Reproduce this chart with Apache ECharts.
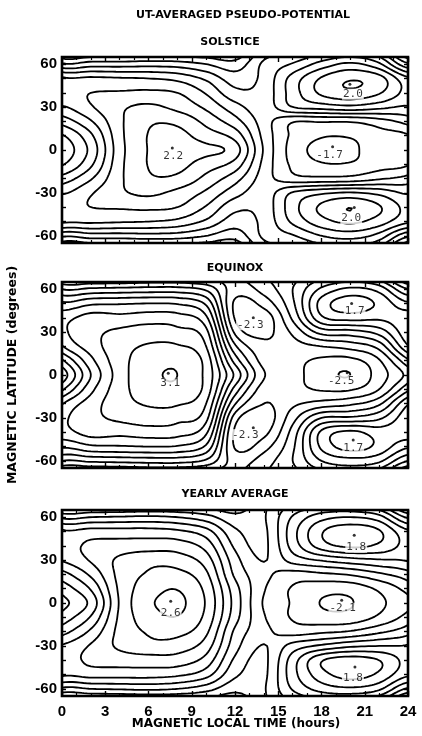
<!DOCTYPE html>
<html><head><meta charset="utf-8">
<script src="https://cdn.jsdelivr.net/npm/echarts@6.0.0/dist/echarts.min.js"></script>
<style>html,body{margin:0;padding:0;background:#fff}#c{width:422px;height:736px}</style>
</head><body><div id="c"></div>
<script>
// ---- data ----
const hours = [0,2,4,6,8,10,12,14,16,18,20,22];           // grid columns (24 h wraps to 0 h)
const lats  = [70,60,50,40,30,20,10,0,-10,-20,-30,-40,-50,-60,-70]; // grid rows
const contourLevels = [-2.5,-2,-1.5,-1,-0.5,0,0.5,1,1.5,2,2.5,3];
const xTickValues = [0,3,6,9,12,15,18,21,24];
const yTickLabels = [-60,-30,0,30,60];
const yTickMarks = [-60,-50,-40,-30,-20,-10,0,10,20,30,40,50,60];
const panelTitles = ['SOLSTICE','EQUINOX','YEARLY AVERAGE'];

const solsticeValues = [
 [-2.2,-2.1,-2.1,-2.0,-2.0,-2.0,-2.0,-0.8,-0.6,-0.2,0.0,-0.4],
 [-0.9,-0.75,-0.75,-0.7,-0.75,-1.0,-1.3,-0.4,0.05,0.7,1.1,0.6],
 [0.6,0.6,0.55,0.5,0.35,-0.1,-0.75,-0.35,0.7,1.55,1.95,1.7],
 [0.85,1.0,1.05,1.1,1.0,0.45,-0.35,-0.3,0.75,1.6,1.88,1.55],
 [0.45,0.95,1.4,1.6,1.35,0.9,0.2,-0.25,0.5,0.7,0.85,0.65],
 [-0.3,0.45,1.4,1.92,1.88,1.35,0.7,-0.25,-0.95,-0.95,-0.95,-0.7],
 [-1.05,-0.1,1.35,2.02,2.15,1.75,1.3,-0.15,-1.1,-1.45,-1.45,-1.2],
 [-1.3,-0.35,1.3,2.02,2.2,2.12,1.75,-0.05,-1.2,-1.65,-1.6,-1.25],
 [-1.05,-0.1,1.35,2.02,2.15,1.75,1.3,-0.15,-1.1,-1.45,-1.45,-1.2],
 [-0.3,0.45,1.4,1.92,1.88,1.35,0.7,-0.25,-0.8,-0.85,-0.8,-0.55],
 [0.45,0.95,1.4,1.6,1.35,0.9,0.2,-0.25,0.55,0.9,1.05,0.85],
 [0.85,1.0,1.05,1.1,1.0,0.45,-0.35,-0.3,0.8,1.6,1.99,1.55],
 [0.6,0.6,0.55,0.5,0.35,-0.1,-0.75,-0.35,0.6,1.3,1.6,1.25],
 [-0.9,-0.75,-0.75,-0.7,-0.75,-1.0,-1.3,-0.4,-0.05,0.5,0.7,0.3],
 [-2.2,-2.1,-2.1,-2.0,-2.0,-2.0,-2.0,-0.8,-0.65,-0.3,-0.2,-0.6]
];
const equinoxValues = [
 [-1.8,-1.8,-1.8,-1.7,-1.7,-1.8,-1.6,-1.0,-0.7,-0.2,0.0,-0.4],
 [-0.5,-0.4,-0.35,-0.3,-0.3,-0.6,-1.75,-1.3,-0.5,0.6,1.1,0.8],
 [0.6,0.9,0.95,1.0,0.95,0.4,-2.1,-1.8,-0.6,1.2,1.75,1.4],
 [1.3,1.7,1.65,1.75,1.7,1.1,-2.05,-2.3,-0.9,0.9,1.2,1.1],
 [1.35,1.85,2.1,2.25,2.15,1.65,-1.6,-2.15,-1.4,-0.3,-0.2,0.2],
 [0.95,1.75,2.3,2.55,2.55,2.0,-0.9,-1.85,-1.7,-1.5,-1.3,-0.8],
 [-0.1,1.35,2.3,2.75,2.88,2.3,-0.2,-1.7,-1.85,-2.1,-2.15,-1.55],
 [-0.8,1.0,2.25,2.85,3.0,2.35,0.4,-1.45,-1.8,-2.3,-2.5,-1.75],
 [-0.1,1.35,2.3,2.75,2.88,2.3,-0.2,-1.75,-1.85,-2.05,-2.05,-1.5],
 [0.95,1.75,2.3,2.55,2.55,2.0,-0.95,-2.0,-1.6,-1.3,-1.1,-0.6],
 [1.35,1.85,2.1,2.25,2.15,1.65,-1.75,-2.3,-1.2,0.0,0.1,0.4],
 [1.3,1.7,1.65,1.75,1.7,1.1,-2.1,-2.15,-0.8,1.1,1.6,1.25],
 [0.6,0.9,0.95,1.0,0.95,0.4,-2.05,-1.7,-0.6,1.1,1.7,1.35],
 [-0.5,-0.4,-0.35,-0.3,-0.3,-0.6,-1.7,-1.25,-0.5,0.5,0.8,0.6],
 [-1.8,-1.8,-1.8,-1.7,-1.7,-1.8,-1.6,-1.0,-0.7,-0.2,0.0,-0.4]
];
const yearlyValues = [
 [-2.0,-1.9,-1.9,-1.8,-1.8,-1.8,-1.9,-1.1,-0.5,-0.2,-0.2,-0.6],
 [-0.6,-0.5,-0.45,-0.4,-0.5,-0.8,-1.35,-1.05,0.05,0.8,1.0,0.7],
 [0.6,0.7,0.7,0.7,0.6,0.2,-0.9,-1.1,0.3,1.45,1.8,1.55],
 [0.85,1.1,1.2,1.25,1.25,0.8,-0.6,-1.1,0.2,1.25,1.6,1.4],
 [0.55,1.05,1.6,1.85,1.75,1.25,-0.3,-1.02,-0.3,0.05,0.3,0.45],
 [-0.2,0.6,1.65,2.05,2.15,1.6,-0.1,-0.85,-1.2,-1.1,-0.95,-0.6],
 [-0.8,0.05,1.6,2.25,2.48,1.85,0.2,-0.95,-1.55,-1.8,-1.8,-1.4],
 [-1.15,-0.35,1.55,2.4,2.6,1.95,0.3,-1.05,-1.55,-2.02,-2.03,-1.6],
 [-0.8,0.05,1.6,2.25,2.48,1.85,0.2,-0.95,-1.55,-1.8,-1.8,-1.4],
 [-0.2,0.6,1.65,2.05,2.15,1.6,-0.1,-0.85,-1.2,-1.1,-0.95,-0.6],
 [0.55,1.05,1.6,1.85,1.75,1.25,-0.3,-1.02,-0.3,0.1,0.4,0.5],
 [0.85,1.1,1.2,1.25,1.25,0.8,-0.6,-1.1,0.25,1.45,1.75,1.5],
 [0.6,0.7,0.7,0.7,0.6,0.2,-0.9,-1.1,0.3,1.3,1.7,1.4],
 [-0.6,-0.5,-0.45,-0.4,-0.5,-0.8,-1.35,-1.05,0.05,0.7,0.9,0.6],
 [-2.0,-1.9,-1.9,-1.8,-1.8,-1.8,-1.9,-1.1,-0.5,-0.2,-0.2,-0.6]
];
// extrema: [hour, latitude, label]
const solsticeExtrema = [[7.65,1.4,'2.2'],[19.97,46,'2.0'],[18.77,2.3,'-1.7'],[20.27,-40.2,'2.0']];
const equinoxExtrema  = [[7.37,1.2,'3.1'],[13.27,40,'-2.3'],[13.27,-36.8,'-2.3'],[19.78,1.6,'-2.5'],[20.09,50,'1.7'],[20.2,-45.4,'1.7']];
const yearlyExtrema   = [[7.54,1.2,'2.6'],[20.27,47.3,'1.8'],[19.4,1.9,'-2.1'],[20.32,-44.7,'1.8']];

// ---- layout / style (kept apart from data) ----
const solsticeLabelOffsets = [[1,8],[3,10],[-3,8],[-3,11]];
const equinoxLabelOffsets  = [[2,10],[-3,7],[-8,7],[-6,8],[3,8],[0,8]];
const yearlyLabelOffsets   = [[0,12],[2,12],[1,8],[-2,11]];
const panelTops = [57,282,510];
const panelHeight = 186, plotLeft = 62, plotWidth = 346;
const titleY = [42,268,494];

// ---- field interpolation and contouring ----
function cr(p0,p1,p2,p3,t){const t2=t*t,t3=t2*t;return 0.5*(2*p1+(-p0+p2)*t+(2*p0-5*p1+4*p2-p3)*t2+(-p0+3*p1-3*p2+p3)*t3);}
function sample(grid,h,lat){
  const nc=hours.length, nr=lats.length;
  const u=((h/2)%nc+nc)%nc; const i1=Math.floor(u); const tu=u-i1;
  const v=(lats[0]-lat)/10; let j1=Math.floor(v); if(j1>=nr-1) j1=nr-2; if(j1<0) j1=0; const tv=v-j1;
  const row=j=>grid[Math.max(0,Math.min(nr-1,j))];
  const cv=(r,i)=>r[((i%nc)+nc)%nc];
  const ri=j=>{const r=row(j);return cr(cv(r,i1-1),cv(r,i1),cv(r,i1+1),cv(r,i1+2),tu);};
  return cr(ri(j1-1),ri(j1),ri(j1+1),ri(j1+2),tv);
}
function contours(grid){
  const xs=[],ys=[];
  for(let h=0;h<=24.0001;h+=0.125) xs.push(+h.toFixed(4));
  for(let l=-66;l<=66.0001;l+=0.5) ys.push(+l.toFixed(4));
  const F=ys.map(l=>xs.map(h=>sample(grid,h,l)));
  const out=[];
  for(const level of contourLevels){
    const L=level+1e-9, segs=[], pt={};
    const hE=(i,j)=>{const id='h'+i+'_'+j;if(!(id in pt)){const a=F[j][i],b=F[j][i+1];const t=(L-a)/(b-a);pt[id]=[xs[i]+t*(xs[i+1]-xs[i]),ys[j]];}return id;};
    const vE=(i,j)=>{const id='v'+i+'_'+j;if(!(id in pt)){const a=F[j][i],b=F[j+1][i];const t=(L-a)/(b-a);pt[id]=[xs[i],ys[j]+t*(ys[j+1]-ys[j])];}return id;};
    const ce=[[0,3],[0,1],[1,2],[2,3]];
    for(let j=0;j<ys.length-1;j++){for(let i=0;i<xs.length-1;i++){
      const v0=F[j][i],v1=F[j][i+1],v2=F[j+1][i+1],v3=F[j+1][i];
      const b=[v0>L,v1>L,v2>L,v3>L];
      const cross=[b[0]!==b[1],b[1]!==b[2],b[2]!==b[3],b[3]!==b[0]];
      const n=cross.filter(Boolean).length; if(!n) continue;
      const E=k=>k===0?hE(i,j):k===1?vE(i+1,j):k===2?hE(i,j+1):vE(i,j);
      if(n===2){const ks=[0,1,2,3].filter(k=>cross[k]);segs.push([E(ks[0]),E(ks[1])]);}
      else{const c=(v0+v1+v2+v3)/4>L;for(let k=0;k<4;k++){if(b[k]!==c)segs.push([E(ce[k][0]),E(ce[k][1])]);}}
    }}
    const adj=new Map();
    segs.forEach((s,idx)=>{for(const e of s){if(!adj.has(e))adj.set(e,[]);adj.get(e).push(idx);}});
    const used=new Uint8Array(segs.length);
    for(let s=0;s<segs.length;s++){
      if(used[s]) continue; used[s]=1;
      let ids=[segs[s][0],segs[s][1]];
      for(let pass=0;pass<2;pass++){
        while(true){const end=ids[ids.length-1];let nx=-1;for(const q of adj.get(end)){if(!used[q]){nx=q;break;}}
          if(nx<0)break;used[nx]=1;const sg=segs[nx];ids.push(sg[0]===end?sg[1]:sg[0]);}
        ids.reverse();
      }
      out.push(ids.map(id=>pt[id]));
    }
  }
  return out;
}

const panels=[
  {values:solsticeValues,extrema:solsticeExtrema,offsets:solsticeLabelOffsets},
  {values:equinoxValues,extrema:equinoxExtrema,offsets:equinoxLabelOffsets},
  {values:yearlyValues,extrema:yearlyExtrema,offsets:yearlyLabelOffsets}
];
const tickFont={fontFamily:'Liberation Sans',fontWeight:'bold',fontSize:15,color:'#000'};
const grids=[],xAxes=[],yAxes=[],series=[];
panels.forEach((p,k)=>{
  grids.push({left:plotLeft,top:panelTops[k],width:plotWidth,height:panelHeight,show:true,borderColor:'#000',borderWidth:2.6,backgroundColor:'rgba(0,0,0,0)'});
  const last=k===panels.length-1;
  const xBase={type:'value',gridIndex:k,min:0,max:24,interval:3,splitLine:{show:false},axisLine:{show:false,onZero:false},
    axisTick:{show:true,inside:true,length:5,lineStyle:{color:'#000',width:1.4}},
    minorTick:{show:true,splitNumber:3,length:3,lineStyle:{color:'#000',width:1.2}},minorSplitLine:{show:false}};
  xAxes.push(Object.assign({},xBase,{position:'bottom',axisLabel:{show:last,margin:8,...tickFont,customValues:xTickValues}}));
  xAxes.push(Object.assign({},xBase,{position:'top',axisLabel:{show:false}}));
  const yBase={type:'value',gridIndex:k,min:-65,max:65,splitLine:{show:false},axisLine:{show:false,onZero:false},
    axisTick:{show:true,inside:true,length:4,customValues:yTickMarks,lineStyle:{color:'#000',width:1.4}}};
  yAxes.push(Object.assign({},yBase,{position:'left',axisLabel:{show:true,margin:5,...tickFont,customValues:yTickLabels}}));
  yAxes.push(Object.assign({},yBase,{position:'right',axisLabel:{show:false}}));
  contours(p.values).forEach(line=>{
    series.push({type:'line',xAxisIndex:2*k,yAxisIndex:2*k,data:line,showSymbol:false,symbol:'none',clip:true,silent:true,
      lineStyle:{color:'#000',width:1.8},z:2});
  });
  series.push({type:'scatter',xAxisIndex:2*k,yAxisIndex:2*k,symbol:'circle',symbolSize:3,itemStyle:{color:'#000'},z:5,silent:true,
    data:p.extrema.map((e,i)=>({value:[e[0],e[1]],label:{show:true,formatter:e[2],position:'inside',offset:p.offsets[i],
      fontFamily:'DejaVu Sans Mono',fontSize:11,color:'#000',backgroundColor:'#fff',padding:[0,1]}}))});
});
const tf=(s)=>({fontFamily:'DejaVu Sans',fontWeight:'bold',fontSize:s,fill:'#000',align:'center',verticalAlign:'middle',textAlign:'center',textVerticalAlign:'middle'});
const graphic=[
  {type:'text',x:243,y:15,style:Object.assign({text:'UT-AVERAGED PSEUDO-POTENTIAL'},tf(11))},
  ...panelTitles.map((t,k)=>({type:'text',x:k===0?230:235,y:titleY[k],style:Object.assign({text:t},tf(11))})),
  {type:'text',x:236,y:724,style:Object.assign({text:'MAGNETIC LOCAL TIME (hours)'},tf(12))},
  {type:'text',x:13,y:375,rotation:Math.PI/2,style:Object.assign({text:'MAGNETIC LATITUDE (degrees)'},tf(12.5))}
];
const chart=echarts.init(document.getElementById('c'),null,{renderer:'canvas'});
chart.setOption({animation:false,backgroundColor:'#fff',grid:grids,xAxis:xAxes,yAxis:yAxes,series:series,graphic:graphic});
</script></body></html>
